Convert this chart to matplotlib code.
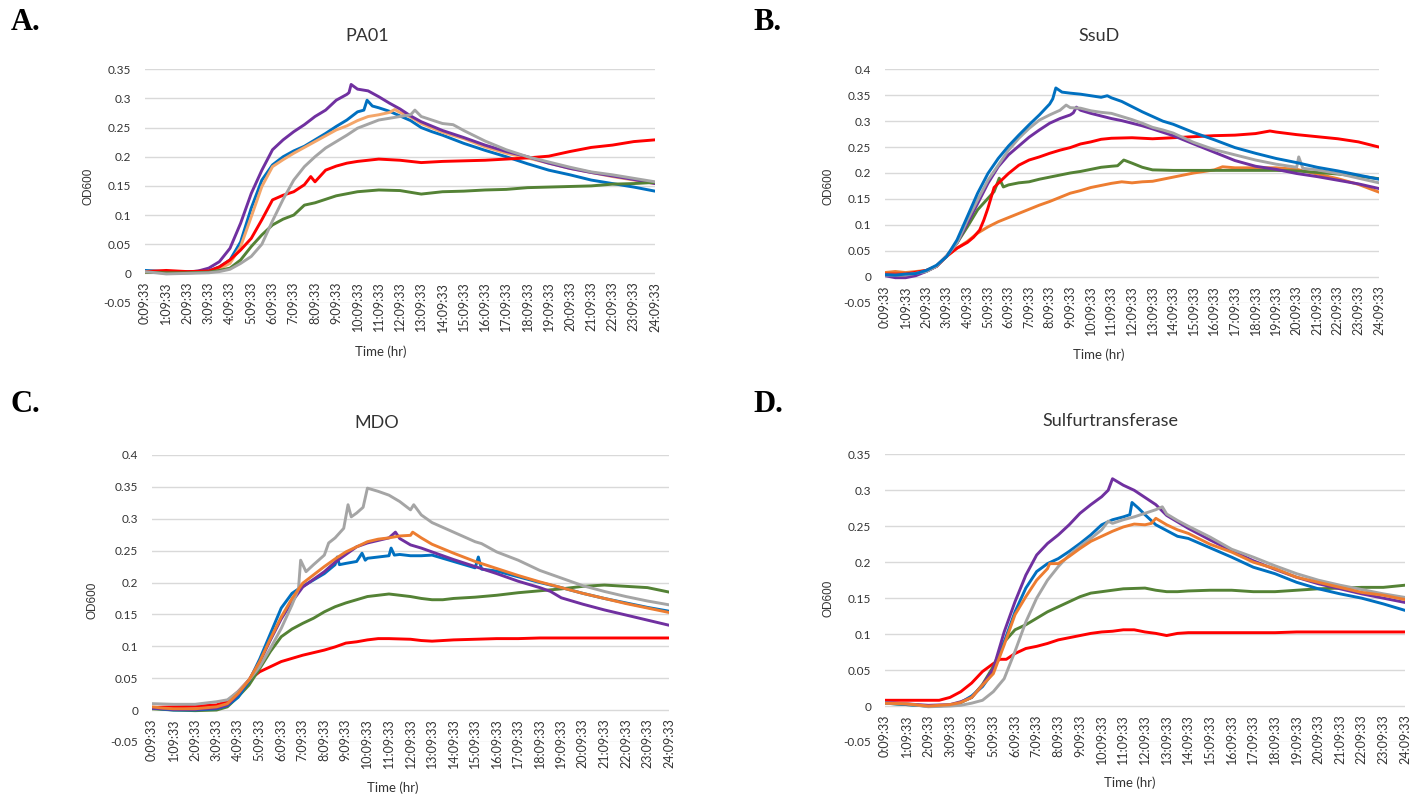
import matplotlib
matplotlib.use("Agg")
import matplotlib.pyplot as plt

plt.rcParams['font.family'] = ['Lato', 'DejaVu Sans']

W, H = 1423, 799
TEXT = '#333333'

# ---------------- colours ----------------
BLUE = '#0070C0'
ORANGE = '#ED7D31'
ORANGE_LIGHT = '#F4A66A'
GRAY = '#A5A5A5'
PURPLE = '#7030A0'
RED = '#FF0000'
GREEN = '#548235'

HOUR_LABELS = [f"{h}:09:33" for h in range(25)]

# ---------------- A. PA01 ----------------
PA01_BLUE_T = [0, 1, 2, 3, 3.5, 4, 4.5, 5, 5.5, 6, 6.5, 7, 7.5, 8, 8.5, 9, 9.5, 10, 10.3, 10.45, 10.7, 11, 11.5, 12, 12.5, 13, 13.5, 14, 15, 16, 17, 18, 19, 20, 21, 22, 23, 24]
PA01_BLUE_V = [0.005, 0.003, 0.003, 0.004, 0.011, 0.023, 0.054, 0.112, 0.16, 0.186, 0.2, 0.21, 0.218, 0.229, 0.24, 0.252, 0.263, 0.277, 0.28, 0.297, 0.287, 0.284, 0.278, 0.27, 0.262, 0.25, 0.243, 0.237, 0.223, 0.211, 0.2, 0.188, 0.177, 0.169, 0.16, 0.154, 0.148, 0.141]
PA01_ORANGE_T = [0, 1, 2, 3, 3.5, 4, 4.5, 5, 5.5, 6, 6.5, 7, 7.5, 8, 8.5, 9, 9.5, 10, 10.5, 11, 11.5, 11.75, 12, 12.5, 13, 14, 15, 16, 17, 18, 19, 20, 21, 22, 23, 24]
PA01_ORANGE_V = [0.002, 0.001, 0.002, 0.003, 0.008, 0.017, 0.046, 0.097, 0.149, 0.183, 0.195, 0.206, 0.216, 0.226, 0.236, 0.246, 0.253, 0.262, 0.269, 0.272, 0.276, 0.281, 0.276, 0.268, 0.257, 0.242, 0.231, 0.217, 0.206, 0.198, 0.189, 0.18, 0.173, 0.166, 0.16, 0.154]
PA01_GRAY_T = [0, 1, 2, 3, 3.5, 4, 4.5, 5, 5.5, 6, 6.5, 7, 7.5, 8, 8.5, 9, 9.5, 10, 10.5, 11, 11.5, 12, 12.5, 12.7, 13, 13.5, 14, 14.5, 15, 16, 17, 18, 19, 20, 21, 22, 23, 24]
PA01_GRAY_V = [0.003, -0.001, 0.0, 0.001, 0.003, 0.007, 0.017, 0.029, 0.05, 0.09, 0.127, 0.16, 0.183, 0.2, 0.215, 0.226, 0.237, 0.249, 0.256, 0.263, 0.266, 0.269, 0.272, 0.28, 0.269, 0.263, 0.257, 0.255, 0.245, 0.227, 0.212, 0.2, 0.191, 0.182, 0.174, 0.169, 0.163, 0.157]
PA01_PURPLE_T = [0, 1, 2, 2.5, 3, 3.5, 4, 4.5, 5, 5.5, 6, 6.5, 7, 7.5, 8, 8.5, 9, 9.5, 9.6, 9.7, 10, 10.5, 11, 11.5, 12, 12.5, 13, 14, 15, 16, 17, 18, 19, 20, 21, 22, 23, 24]
PA01_PURPLE_V = [0.003, 0.002, 0.002, 0.004, 0.009, 0.02, 0.043, 0.086, 0.137, 0.177, 0.212, 0.229, 0.243, 0.255, 0.269, 0.28, 0.297, 0.307, 0.31, 0.324, 0.316, 0.313, 0.303, 0.292, 0.282, 0.27, 0.26, 0.245, 0.233, 0.22, 0.209, 0.2, 0.189, 0.18, 0.173, 0.167, 0.161, 0.154]
PA01_RED_T = [0, 1, 2, 3, 3.5, 4, 4.5, 5, 5.5, 6, 6.5, 7, 7.5, 7.8, 8, 8.5, 9, 9.5, 10, 11, 12, 13, 14, 15, 16, 17, 18, 19, 20, 21, 22, 23, 24]
PA01_RED_V = [0.003, 0.005, 0.003, 0.004, 0.011, 0.023, 0.04, 0.06, 0.092, 0.126, 0.134, 0.14, 0.152, 0.166, 0.157, 0.177, 0.184, 0.189, 0.192, 0.196, 0.194, 0.19, 0.192, 0.193, 0.194, 0.196, 0.198, 0.201, 0.209, 0.216, 0.22, 0.226, 0.229]
PA01_GREEN_T = [0, 1, 2, 3, 3.5, 4, 4.5, 5, 5.5, 6, 6.5, 7, 7.5, 8, 8.5, 9, 10, 11, 12, 13, 14, 15, 16, 17, 18, 19, 20, 21, 22, 23, 24]
PA01_GREEN_V = [0.002, 0.001, 0.001, 0.002, 0.005, 0.009, 0.023, 0.046, 0.066, 0.083, 0.093, 0.1, 0.117, 0.121, 0.127, 0.133, 0.14, 0.143, 0.142, 0.136, 0.14, 0.141, 0.143, 0.144, 0.147, 0.148, 0.149, 0.15, 0.153, 0.154, 0.156]

# ---------------- B. SsuD ----------------
SSUD_BLUE_T = [0, 0.5, 1, 1.5, 2, 2.5, 3, 3.5, 4, 4.5, 5, 5.5, 6, 6.5, 7, 7.5, 8, 8.15, 8.3, 8.6, 9, 9.5, 10, 10.5, 10.8, 11, 11.5, 12, 12.5, 13, 13.5, 14, 15, 16, 17, 18, 19, 20, 21, 22, 23, 24]
SSUD_BLUE_V = [0.004, 0.003, 0.005, 0.006, 0.012, 0.022, 0.039, 0.071, 0.116, 0.161, 0.199, 0.228, 0.252, 0.273, 0.293, 0.312, 0.333, 0.343, 0.364, 0.356, 0.354, 0.352, 0.349, 0.346, 0.349, 0.345, 0.338, 0.328, 0.318, 0.309, 0.3, 0.294, 0.278, 0.264, 0.249, 0.238, 0.228, 0.22, 0.211, 0.204, 0.196, 0.188]
SSUD_ORANGE_T = [0, 0.5, 1, 1.5, 2, 2.5, 3, 3.5, 4, 4.5, 5, 5.5, 6, 6.5, 7, 7.5, 8, 8.5, 9, 9.5, 10, 10.5, 11, 11.5, 12, 12.5, 13, 13.5, 14, 14.5, 15, 16, 16.4, 17, 18, 19, 20, 21, 22, 23, 24]
SSUD_ORANGE_V = [0.008, 0.01, 0.008, 0.01, 0.012, 0.02, 0.039, 0.055, 0.068, 0.084, 0.096, 0.106, 0.114, 0.122, 0.13, 0.138, 0.145, 0.153, 0.161, 0.166, 0.172, 0.176, 0.18, 0.183, 0.181, 0.183, 0.184, 0.188, 0.192, 0.196, 0.2, 0.206, 0.212, 0.21, 0.21, 0.21, 0.207, 0.198, 0.189, 0.178, 0.163]
SSUD_GRAY_T = [0, 1, 2, 2.5, 3, 3.5, 4, 4.5, 5, 5.5, 6, 6.5, 7, 7.5, 8, 8.5, 8.8, 9, 9.5, 10, 10.5, 11, 11.5, 12, 12.5, 13, 13.5, 14, 15, 16, 17, 18, 19, 20, 20.1, 20.3, 21, 22, 23, 24]
SSUD_GRAY_V = [0.003, 0.003, 0.01, 0.02, 0.04, 0.065, 0.109, 0.148, 0.186, 0.215, 0.244, 0.267, 0.286, 0.302, 0.312, 0.321, 0.331, 0.326, 0.325, 0.32, 0.317, 0.315, 0.309, 0.303, 0.296, 0.288, 0.283, 0.277, 0.259, 0.245, 0.235, 0.225, 0.217, 0.211, 0.231, 0.209, 0.206, 0.199, 0.19, 0.181]
SSUD_PURPLE_T = [0, 0.5, 1, 1.5, 2, 2.5, 3, 3.5, 4, 4.5, 5, 5.5, 6, 6.5, 7, 7.5, 8, 8.5, 9, 9.15, 9.3, 9.5, 10, 10.5, 11, 11.5, 12, 12.5, 13, 14, 15, 16, 17, 18, 19, 20, 21, 22, 23, 24]
SSUD_PURPLE_V = [0.002, -0.002, -0.002, 0.002, 0.01, 0.02, 0.04, 0.065, 0.103, 0.141, 0.18, 0.212, 0.235, 0.252, 0.269, 0.283, 0.296, 0.305, 0.312, 0.316, 0.327, 0.321, 0.315, 0.31, 0.305, 0.301, 0.296, 0.291, 0.285, 0.272, 0.256, 0.24, 0.224, 0.213, 0.207, 0.199, 0.193, 0.186, 0.179, 0.17]
SSUD_RED_T = [0, 1, 2, 2.5, 3, 3.5, 4, 4.3, 4.6, 4.8, 5, 5.3, 5.5, 6, 6.5, 7, 7.5, 8, 8.5, 9, 9.5, 10, 10.5, 11, 12, 13, 14, 15, 16, 17, 18, 18.7, 19, 20, 21, 22, 23, 24]
SSUD_RED_V = [0.005, 0.005, 0.012, 0.02, 0.04, 0.055, 0.066, 0.076, 0.09, 0.109, 0.132, 0.172, 0.18, 0.199, 0.215, 0.225, 0.231, 0.238, 0.244, 0.249, 0.256, 0.26, 0.265, 0.267, 0.268, 0.266, 0.268, 0.27, 0.272, 0.273, 0.276, 0.281, 0.279, 0.274, 0.27, 0.266, 0.26, 0.25]
SSUD_GREEN_T = [0, 1, 2, 2.5, 3, 3.5, 4, 4.5, 5, 5.3, 5.55, 5.75, 6, 6.5, 7, 7.5, 8, 8.5, 9, 9.5, 10, 10.5, 11, 11.3, 11.6, 12, 12.5, 13, 14, 15, 16, 17, 18, 19, 20, 21, 22, 23, 24]
SSUD_GREEN_V = [0.003, 0.002, 0.01, 0.02, 0.04, 0.065, 0.096, 0.129, 0.151, 0.164, 0.19, 0.173, 0.177, 0.181, 0.183, 0.188, 0.192, 0.196, 0.2, 0.203, 0.207, 0.211, 0.213, 0.214, 0.225, 0.219, 0.211, 0.206, 0.205, 0.205, 0.205, 0.205, 0.205, 0.205, 0.204, 0.201, 0.198, 0.194, 0.189]

# ---------------- C. MDO ----------------
MDO_BLUE_T = [0, 1, 2, 3, 3.5, 4, 4.5, 5, 5.5, 6, 6.5, 6.8, 7, 7.5, 8, 8.5, 8.6, 8.7, 9, 9.5, 9.75, 9.9, 10, 10.5, 11, 11.1, 11.25, 11.5, 12, 12.5, 13, 13.5, 14, 14.5, 15, 15.15, 15.3, 16, 17, 18, 19, 20, 21, 22, 23, 24]
MDO_BLUE_V = [0.003, 0.0, 0.0, 0.002, 0.007, 0.02, 0.045, 0.08, 0.12, 0.16, 0.183, 0.19, 0.194, 0.204, 0.214, 0.228, 0.24, 0.228, 0.23, 0.233, 0.246, 0.235, 0.238, 0.24, 0.242, 0.254, 0.243, 0.244, 0.242, 0.242, 0.243, 0.238, 0.233, 0.228, 0.223, 0.24, 0.221, 0.218, 0.209, 0.2, 0.192, 0.183, 0.175, 0.168, 0.161, 0.155]
MDO_ORANGE_T = [0, 0.5, 1, 2, 3, 3.5, 4, 4.5, 5, 5.5, 6, 6.5, 7, 7.5, 8, 8.5, 9, 9.5, 10, 10.5, 11, 11.5, 12, 12.1, 12.5, 13, 14, 15, 16, 17, 18, 19, 20, 21, 22, 23, 24]
MDO_ORANGE_V = [0.005, 0.003, 0.002, 0.002, 0.005, 0.01, 0.026, 0.047, 0.076, 0.112, 0.146, 0.175, 0.199, 0.212, 0.225, 0.237, 0.248, 0.256, 0.264, 0.268, 0.27, 0.273, 0.274, 0.279, 0.27, 0.26, 0.246, 0.233, 0.222, 0.211, 0.201, 0.192, 0.183, 0.175, 0.167, 0.16, 0.153]
MDO_GRAY_T = [0, 1, 2, 3, 3.5, 4, 4.5, 5, 5.5, 6, 6.5, 6.8, 6.9, 7.15, 7.5, 8, 8.2, 8.5, 8.9, 9.1, 9.25, 9.5, 9.8, 10, 10.5, 11, 11.5, 12, 12.15, 12.5, 13, 14, 15, 15.3, 16, 17, 18, 19, 20, 21, 22, 23, 24]
MDO_GRAY_V = [0.01, 0.009, 0.009, 0.013, 0.016, 0.029, 0.047, 0.068, 0.097, 0.128, 0.165, 0.19, 0.235, 0.217, 0.228, 0.243, 0.262, 0.27, 0.285, 0.322, 0.303, 0.309, 0.318, 0.348, 0.343, 0.337, 0.327, 0.314, 0.322, 0.306, 0.294, 0.279, 0.264, 0.261, 0.248, 0.235, 0.219, 0.207, 0.195, 0.186, 0.178, 0.171, 0.165]
MDO_PURPLE_T = [0, 1, 2, 3, 3.5, 4, 4.5, 5, 5.5, 6, 6.5, 7, 7.5, 8, 8.5, 9, 9.5, 10, 10.5, 11, 11.3, 11.5, 12, 12.5, 13, 14, 15, 16, 17, 18, 18.5, 19, 20, 21, 22, 23, 24]
MDO_PURPLE_V = [0.003, 0.001, 0.001, 0.003, 0.008, 0.025, 0.047, 0.075, 0.11, 0.143, 0.17, 0.193, 0.205, 0.217, 0.232, 0.244, 0.256, 0.262, 0.266, 0.27, 0.279, 0.269, 0.259, 0.254, 0.248, 0.236, 0.225, 0.214, 0.202, 0.192, 0.186, 0.176, 0.166, 0.157, 0.149, 0.141, 0.133]
MDO_RED_T = [0, 1, 2, 3, 3.5, 4, 4.5, 5, 5.5, 6, 6.5, 7, 7.5, 8, 8.5, 9, 9.5, 10, 10.5, 11, 12, 12.5, 13, 14, 15, 16, 17, 18, 19, 20, 21, 22, 23, 24]
MDO_RED_V = [0.004, 0.005, 0.006, 0.008, 0.014, 0.029, 0.047, 0.06, 0.068, 0.076, 0.081, 0.086, 0.09, 0.094, 0.099, 0.105, 0.107, 0.11, 0.112, 0.112, 0.111, 0.109, 0.108, 0.11, 0.111, 0.112, 0.112, 0.113, 0.113, 0.113, 0.113, 0.113, 0.113, 0.113]
MDO_GREEN_T = [0, 1, 2, 3, 3.5, 4, 4.5, 5, 5.5, 6, 6.5, 7, 7.5, 8, 8.5, 9, 9.5, 10, 10.5, 11, 11.5, 12, 12.5, 13, 13.5, 14, 15, 16, 17, 18, 19, 20, 21, 22, 23, 24]
MDO_GREEN_V = [0.002, 0.0, -0.001, 0.0, 0.005, 0.021, 0.039, 0.065, 0.092, 0.115, 0.127, 0.136, 0.144, 0.154, 0.162, 0.168, 0.173, 0.178, 0.18, 0.182, 0.18, 0.178, 0.175, 0.173, 0.173, 0.175, 0.177, 0.18, 0.184, 0.187, 0.19, 0.194, 0.196, 0.194, 0.192, 0.185]

# ---------------- D. Sulfurtransferase ----------------
SULF_BLUE_T = [0, 1, 2, 3, 3.5, 4, 4.5, 5, 5.5, 6, 6.5, 7, 7.5, 8, 8.5, 9, 9.5, 10, 10.5, 11, 11.3, 11.4, 11.7, 12, 12.5, 13, 13.5, 14, 15, 16, 17, 18, 19, 20, 21, 22, 23, 24]
SULF_BLUE_V = [0.004, 0.002, 0.0, 0.001, 0.005, 0.014, 0.027, 0.048, 0.089, 0.131, 0.164, 0.187, 0.198, 0.205, 0.215, 0.226, 0.238, 0.252, 0.259, 0.263, 0.266, 0.283, 0.275, 0.266, 0.252, 0.244, 0.236, 0.233, 0.22, 0.207, 0.193, 0.184, 0.172, 0.163, 0.156, 0.15, 0.142, 0.133]
SULF_ORANGE_T = [0, 1, 2, 3, 3.5, 4, 4.5, 5, 5.5, 6, 6.5, 7, 7.5, 7.6, 8, 8.5, 9, 9.5, 10, 10.5, 11, 11.5, 12, 12.3, 12.5, 13, 13.5, 14, 15, 16, 17, 18, 19, 20, 21, 22, 23, 24]
SULF_ORANGE_V = [0.004, 0.003, 0.0, 0.002, 0.005, 0.012, 0.029, 0.045, 0.085, 0.127, 0.152, 0.175, 0.191, 0.198, 0.198, 0.208, 0.219, 0.229, 0.236, 0.243, 0.249, 0.253, 0.252, 0.254, 0.261, 0.252, 0.245, 0.24, 0.225, 0.214, 0.2, 0.191, 0.179, 0.172, 0.165, 0.158, 0.154, 0.148]
SULF_GRAY_T = [0, 1, 2, 3, 3.5, 4, 4.5, 5, 5.5, 6, 6.5, 7, 7.5, 8, 8.5, 9, 9.5, 10, 10.3, 10.5, 11, 11.5, 12, 12.5, 12.8, 13, 13.5, 14, 15, 16, 17, 18, 19, 20, 21, 22, 23, 24]
SULF_GRAY_V = [0.004, 0.003, -0.001, 0.0, 0.001, 0.004, 0.008, 0.02, 0.038, 0.076, 0.117, 0.15, 0.175, 0.194, 0.21, 0.222, 0.233, 0.245, 0.257, 0.254, 0.259, 0.263, 0.268, 0.273, 0.277, 0.267, 0.258, 0.25, 0.235, 0.218, 0.207, 0.195, 0.184, 0.175, 0.168, 0.162, 0.156, 0.151]
SULF_PURPLE_T = [0, 1, 2, 3, 3.5, 4, 4.5, 5, 5.5, 6, 6.5, 7, 7.5, 8, 8.5, 9, 9.5, 10, 10.3, 10.5, 11, 11.5, 12, 12.5, 13, 14, 15, 16, 17, 18, 19, 20, 21, 22, 23, 24]
SULF_PURPLE_V = [0.005, 0.003, 0.001, 0.002, 0.006, 0.012, 0.029, 0.052, 0.103, 0.145, 0.182, 0.21, 0.226, 0.238, 0.252, 0.268, 0.28, 0.291, 0.3, 0.316, 0.307, 0.3, 0.29, 0.28, 0.265, 0.247, 0.231, 0.216, 0.202, 0.19, 0.179, 0.17, 0.163, 0.156, 0.15, 0.144]
SULF_RED_T = [0, 1, 2, 2.5, 3, 3.5, 4, 4.5, 5, 5.3, 5.6, 6, 6.5, 7, 7.5, 8, 8.5, 9, 9.5, 10, 10.5, 11, 11.5, 12, 12.5, 13, 13.5, 14, 15, 16, 17, 18, 19, 20, 21, 22, 23, 24]
SULF_RED_V = [0.008, 0.008, 0.008, 0.008, 0.012, 0.02, 0.032, 0.048, 0.059, 0.065, 0.065, 0.073, 0.08, 0.083, 0.087, 0.092, 0.095, 0.098, 0.101, 0.103, 0.104, 0.106, 0.106, 0.103, 0.101, 0.098, 0.101, 0.102, 0.102, 0.102, 0.102, 0.102, 0.103, 0.103, 0.103, 0.103, 0.103, 0.103]
SULF_GREEN_T = [0, 1, 2, 3, 3.5, 4, 4.5, 5, 5.5, 6, 6.5, 7, 7.5, 8, 8.5, 9, 9.5, 10, 10.5, 11, 12, 12.5, 13, 13.5, 14, 15, 16, 17, 18, 19, 20, 21, 22, 23, 24]
SULF_GREEN_V = [0.004, 0.002, 0.0, 0.001, 0.005, 0.012, 0.03, 0.055, 0.089, 0.106, 0.113, 0.122, 0.131, 0.138, 0.145, 0.152, 0.157, 0.159, 0.161, 0.163, 0.164, 0.161, 0.159, 0.159, 0.16, 0.161, 0.161, 0.159, 0.159, 0.161, 0.163, 0.164, 0.165, 0.165, 0.168]


def fig_xy(x_px, y_px):
    return x_px / W, 1 - y_px / H


def axes_rect(left_px, right_px, top_px, bottom_px):
    return [left_px / W, 1 - bottom_px / H, (right_px - left_px) / W, (bottom_px - top_px) / H]


def draw_panel(fig, rect, ymax, series, letter, letter_xy, title, title_xy,
               ylab_xy, xlab_xy):
    ax = fig.add_axes(rect)
    # hour labels hang from the zero line, as in a spreadsheet line chart
    for s in ax.spines.values():
        s.set_visible(False)
    ax.spines['bottom'].set_position(('data', 0))

    for t, v, c in series:
        ax.plot(t, v, color=c, lw=2.1, solid_joinstyle='round',
                solid_capstyle='round', zorder=3)
    ax.set_xlim(0, 24)
    ax.set_ylim(-0.05, ymax)
    n = int(round((ymax + 0.05) / 0.05)) + 1
    yt = [round(-0.05 + 0.05 * i, 2) for i in range(n)]
    ax.set_yticks(yt)
    ax.set_yticklabels([f"{y:g}" for y in yt])
    ax.set_xticks(range(25))
    ax.set_xticklabels(HOUR_LABELS)
    ax.tick_params(axis='x', length=0, pad=6, labelsize=9, colors=TEXT,
                   labelrotation=90)
    for lab in ax.get_xticklabels():
        lab.set_va('top')
        lab.set_ha('center')
    ax.tick_params(axis='y', length=0, pad=10, labelsize=8.5, colors=TEXT)
    ax.yaxis.grid(True, color='#D9D9D9', lw=1.0, zorder=0)
    ax.set_axisbelow(True)

    fig.text(*fig_xy(*letter_xy), letter, family='Liberation Serif',
             fontweight='bold', fontsize=22, ha='left', va='center')
    fig.text(*fig_xy(*title_xy), title, fontsize=13, ha='center', va='center',
             color=TEXT)
    fig.text(*fig_xy(*ylab_xy), 'OD600', family='Liberation Sans', fontsize=8.5,
             rotation=90, ha='center', va='center', color=TEXT)
    fig.text(*fig_xy(*xlab_xy), 'Time (hr)', fontsize=9.5, ha='center',
             va='center', color=TEXT)
    return ax


fig = plt.figure(figsize=(W / 100, H / 100), dpi=100)

draw_panel(fig, axes_rect(145, 655, 69.3, 302.5), 0.35,
           [(PA01_BLUE_T, PA01_BLUE_V, BLUE),
            (PA01_ORANGE_T, PA01_ORANGE_V, ORANGE_LIGHT),
            (PA01_PURPLE_T, PA01_PURPLE_V, PURPLE),
            (PA01_RED_T, PA01_RED_V, RED),
            (PA01_GREEN_T, PA01_GREEN_V, GREEN),
            (PA01_GRAY_T, PA01_GRAY_V, GRAY)],
           'A.', (11, 22), 'PA01', (367, 36), (88, 186), (381, 352))

draw_panel(fig, axes_rect(885, 1379, 69.3, 302.6), 0.4,
           [(SSUD_ORANGE_T, SSUD_ORANGE_V, ORANGE),
            (SSUD_GREEN_T, SSUD_GREEN_V, GREEN),
            (SSUD_RED_T, SSUD_RED_V, RED),
            (SSUD_PURPLE_T, SSUD_PURPLE_V, PURPLE),
            (SSUD_GRAY_T, SSUD_GRAY_V, GRAY),
            (SSUD_BLUE_T, SSUD_BLUE_V, BLUE)],
           'B.', (753, 22), 'SsuD', (1099, 36), (828, 186), (1099, 355))

draw_panel(fig, axes_rect(152, 669, 455, 741.9), 0.4,
           [(MDO_RED_T, MDO_RED_V, RED),
            (MDO_GREEN_T, MDO_GREEN_V, GREEN),
            (MDO_BLUE_T, MDO_BLUE_V, BLUE),
            (MDO_PURPLE_T, MDO_PURPLE_V, PURPLE),
            (MDO_GRAY_T, MDO_GRAY_V, GRAY),
            (MDO_ORANGE_T, MDO_ORANGE_V, ORANGE)],
           'C.', (11, 404), 'MDO', (377, 423), (92, 600), (393, 788))

draw_panel(fig, axes_rect(885, 1405, 454.3, 742), 0.35,
           [(SULF_RED_T, SULF_RED_V, RED),
            (SULF_GREEN_T, SULF_GREEN_V, GREEN),
            (SULF_BLUE_T, SULF_BLUE_V, BLUE),
            (SULF_PURPLE_T, SULF_PURPLE_V, PURPLE),
            (SULF_GRAY_T, SULF_GRAY_V, GRAY),
            (SULF_ORANGE_T, SULF_ORANGE_V, ORANGE)],
           'D.', (753, 404), 'Sulfurtransferase', (1110, 421), (828, 598), (1130, 783))

fig.savefig('out.png', dpi=100, facecolor='white')
